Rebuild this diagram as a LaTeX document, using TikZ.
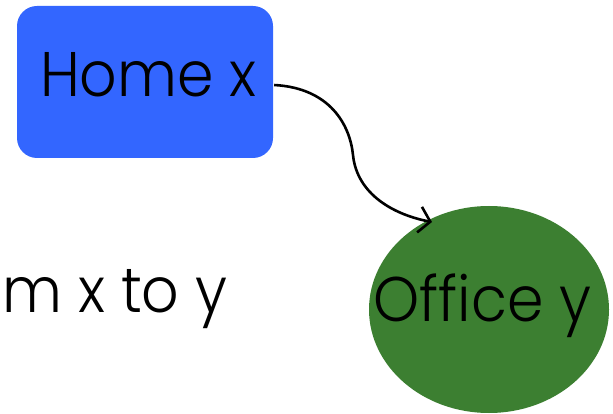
\documentclass[tikz,border=0pt]{standalone}
\usepackage{fontspec}
\setmainfont{Poppins}[UprightFont={* Light}, FakeStretch=0.93]
\usetikzlibrary{arrows.meta,shapes.geometric}
\definecolor{homeblue}{HTML}{3366FF}
\definecolor{officegreen}{HTML}{3C7F31}
\tikzset{
  lbl/.style={font=\fontsize{63}{63}\selectfont, inner sep=0pt},
  conn/.style={line width=2.6pt, -{Straight Barb[length=11pt,width=26pt,line width=2.6pt]}},
}
\begin{document}
\begin{tikzpicture}[x=1pt,y=-1pt]
\useasboundingbox (0,0) rectangle (613,414);
\node[fill=homeblue, rounded corners=20pt, minimum width=256pt, minimum height=152pt, inner sep=0pt] (home) at (145,82) {};
\node[lbl, anchor=base] (hometext) at (148.5,97) {Home x};
\node[fill=officegreen, ellipse, minimum width=240pt, minimum height=207pt, inner sep=0pt] (office) at (489,309.5) {};
\node[lbl, anchor=base] (officetext) at (482.5,321) {Office y};
\node[lbl, anchor=base west] (edgelabel) at (2,312) {m x to y};
\coordinate (tip) at (432,222);
\draw[conn] (home.east) ++(1,3) coordinate (start) .. controls (330,88) and (350,125) .. (353,155) .. controls (357,195) and (395,215) .. (tip);
\end{tikzpicture}
\end{document}
